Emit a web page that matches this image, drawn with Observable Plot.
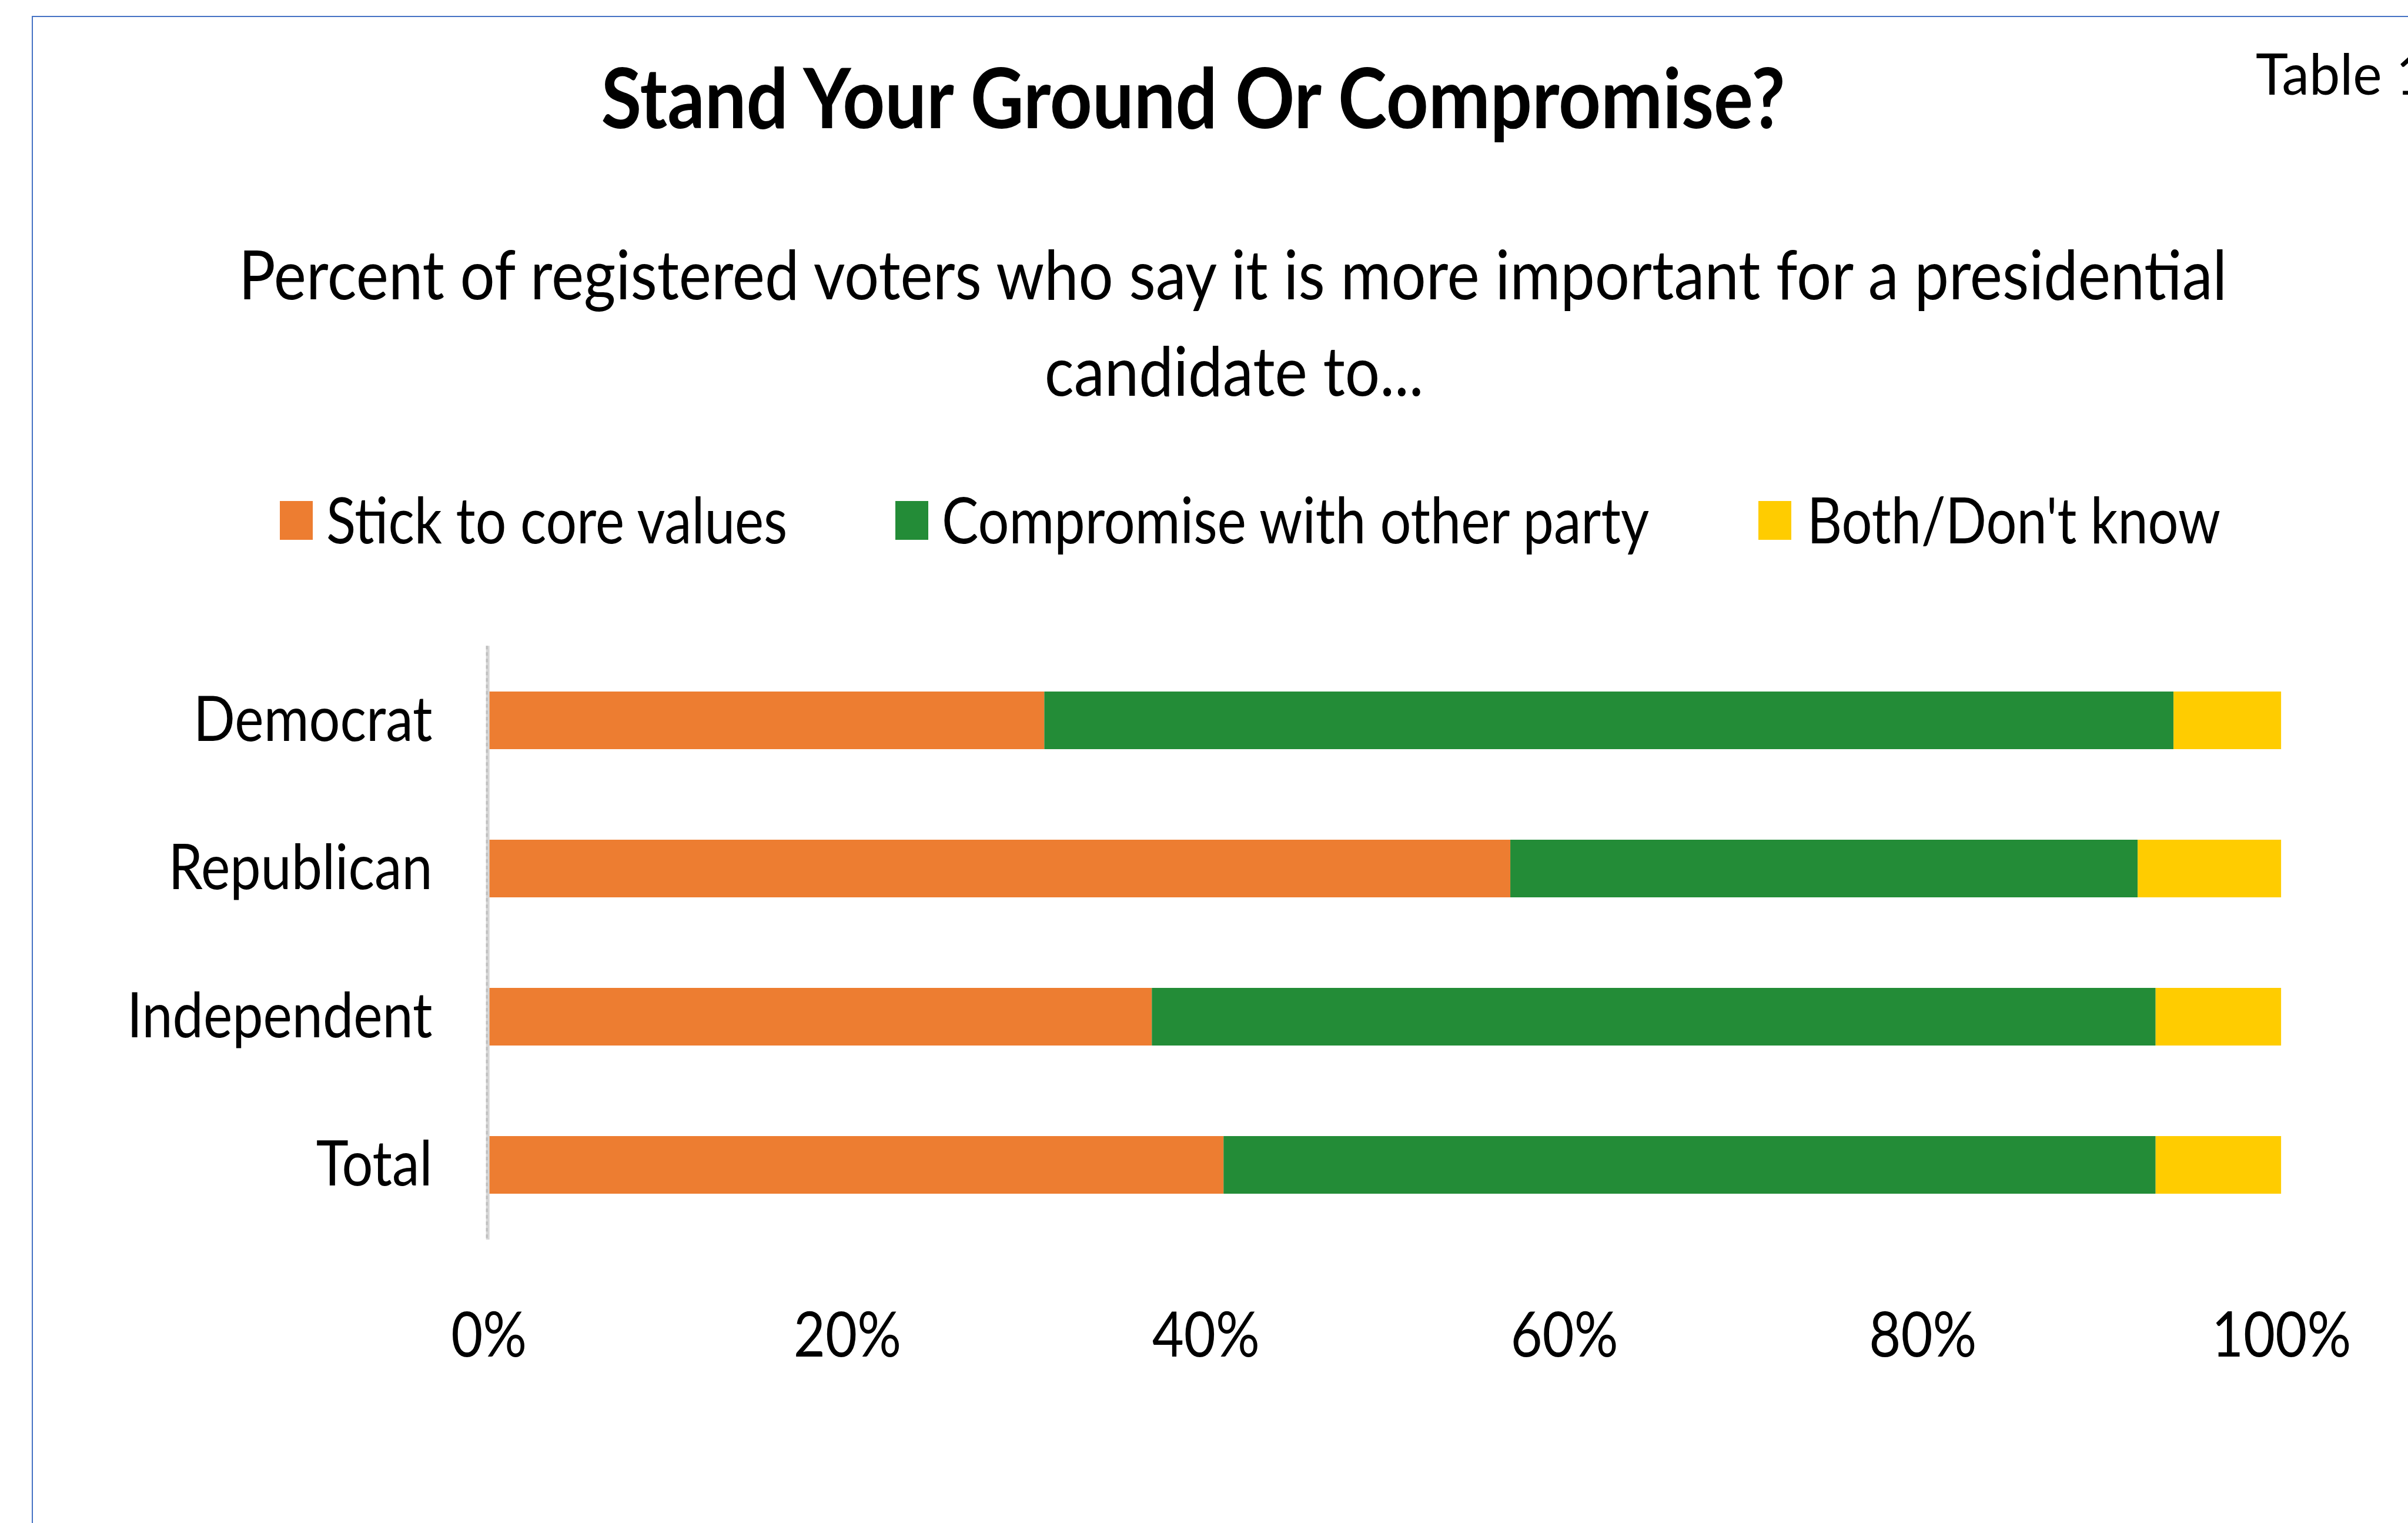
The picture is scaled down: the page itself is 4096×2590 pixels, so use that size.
<!DOCTYPE html>
<html><head><meta charset="utf-8">
<script src="https://cdn.jsdelivr.net/npm/d3@7"></script>
<script src="https://cdn.jsdelivr.net/npm/@observablehq/plot@0.6"></script>
<style>
html,body{margin:0;padding:0;background:#fff;overflow:hidden;}
#page{position:relative;width:4096px;height:2590px;overflow:hidden;background:#fff;font-family:Lato,"Open Sans",sans-serif;}
.t{position:absolute;white-space:pre;color:#000;font-family:Lato,"Open Sans",sans-serif;}
.sw{position:absolute;}
</style></head><body><div id="page"></div>
<script>
// ---- data ----
const groups = ["Democrat", "Republican", "Independent", "Total"];
const categories = ["Stick to core values", "Compromise with other party", "Both/Don't know"];
const stickValues = [31, 57, 37, 41];
const compromiseValues = [63, 35, 56, 52];
const bothValues = [6, 8, 7, 7];
const xTicks = [0, 20, 40, 60, 80, 100];
const colors = ["#ED7D31", "#238C37", "#FFCC00"];
const titleText = "Stand Your Ground Or Compromise?";
const subtitleLines = ["Percent of registered voters who say it is more important for a presidential", "candidate to..."];
const cornerText = "Table 1";

const series = [stickValues, compromiseValues, bothValues];
const table = groups.flatMap((g, i) => categories.map((c, j) => ({group: g, category: c, value: series[j][i]})));

// ---- layout (reference pixel coords, scaled by s) ----
const s = 0.971;
const page = document.getElementById("page");
const ctx = document.createElement("canvas").getContext("2d");
const FAM = 'Lato, "Open Sans", sans-serif';
function measure(text, weight, size) { ctx.font = `${weight} ${size}px ${FAM}`; return ctx.measureText(text); }
function sizeForCap(cap, weight) { const m = measure("H", weight, 100); return cap * 100 / m.actualBoundingBoxAscent; }

function addText(text, o) {
  const weight = o.weight || 400;
  const size = sizeForCap(o.cap * s, weight);
  const m = measure(text, weight, size);
  const asc = m.fontBoundingBoxAscent, desc = m.fontBoundingBoxDescent;
  const fitW = o.width ? measure(o.fitText || text, weight, size).width : null;
  const k = o.width ? (o.width * s) / fitW : 1;
  const d = document.createElement("div");
  d.className = "t";
  d.textContent = text;
  d.style.fontSize = size + "px";
  d.style.fontWeight = weight;
  d.style.lineHeight = (asc + desc) + "px";
  d.style.top = (o.baseline * s - asc) + "px";
  const w = m.width;
  if (o.anchor === "middle") {
    d.style.left = (o.x * s - w / 2) + "px";
    d.style.transformOrigin = "50% 50%";
  } else {
    d.style.left = (o.x * s) + "px";
    d.style.transformOrigin = "0 50%";
  }
  d.style.transform = `scaleX(${k})`;
  page.appendChild(d);
  return d;
}

// frame border (blue, top + left)
const border = document.createElement("div");
Object.assign(border.style, {position: "absolute", left: (56 * s) + "px", top: (28 * s) + "px", width: "5000px", height: "5000px",
  borderLeft: "2px solid #4472C4", borderTop: "2px solid #4472C4", boxSizing: "border-box"});
page.appendChild(border);

// title, subtitle, corner
addText(titleText, {weight: 700, cap: 107, baseline: 225, anchor: "middle", x: 2096, width: 2085});
addText(subtitleLines[0], {cap: 87, baseline: 524, anchor: "middle", x: 2166, width: 3495});
addText(subtitleLines[1], {cap: 87, baseline: 693, anchor: "middle", x: 2162, width: 664});
addText(cornerText, {cap: 73, baseline: 166, anchor: "start", x: 3952, width: 221, fitText: "Table"});

// legend
const legendLayout = [{sx: 490, tx: 572, tw: 810}, {sx: 1568, tx: 1650, tw: 1243}, {sx: 3080, tx: 3166, tw: 724}];
categories.forEach((c, i) => {
  const L = legendLayout[i];
  const sw = document.createElement("div");
  sw.className = "sw";
  Object.assign(sw.style, {left: (L.sx * s) + "px", top: (877 * s) + "px", width: (58 * s) + "px", height: (68 * s) + "px", background: colors[i]});
  page.appendChild(sw);
  addText(c, {cap: 81, baseline: 952, anchor: "start", x: L.tx, width: L.tw});
});

// ---- chart ----
const svgTop = 1000 * s;
const H = 2590 - svgTop;
const x0 = 856 * s, x1 = 3996 * s;
const yTop = (1131 - 1000) * s, yBot = (2171 - 1000) * s;
const chartSize = sizeForCap(80 * s, 400);
const padX = (2375 - 1000) * s - 0.71 * chartSize - yBot;
const padY = x0 - 757 * s;
const kChart = (535 * s) / measure("Independent", 400, chartSize).width;

const chart = Plot.plot({
  width: 4096,
  height: H,
  marginLeft: x0,
  marginRight: 4096 - x1,
  marginTop: yTop,
  marginBottom: H - yBot,
  style: {background: "transparent", fontFamily: FAM, fontSize: chartSize + "px", color: "#000", overflow: "visible"},
  x: {domain: [0, 100], ticks: xTicks, tickFormat: d => d + "%", tickSize: 0, tickPadding: padX, label: null, line: false},
  y: {domain: groups, paddingInner: 0.61, paddingOuter: 0.305, tickSize: 0, tickPadding: padY, label: null},
  color: {domain: categories, range: colors},
  marks: [
    Plot.barX(table, Plot.stackX({x: "value", y: "group", fill: "category"})),
    Plot.ruleX([0], {stroke: "#d6d6d6", strokeWidth: 6, dx: -2}),
    Plot.ruleX([0], {stroke: "#bdbdbd", strokeWidth: 3, dx: -3.5, strokeDasharray: "6,5"})
  ]
});
chart.style.position = "absolute";
chart.style.left = "0px";
chart.style.top = svgTop + "px";
chart.style.maxWidth = "none";
page.appendChild(chart);

chart.querySelectorAll("text").forEach(t => {
  const ax = parseFloat(t.getAttribute("x")) || 0;
  const tr = t.getAttribute("transform") || "";
  t.setAttribute("transform", `${tr} translate(${ax},0) scale(${kChart},1) translate(${-ax},0)`);
});
</script></body></html>
